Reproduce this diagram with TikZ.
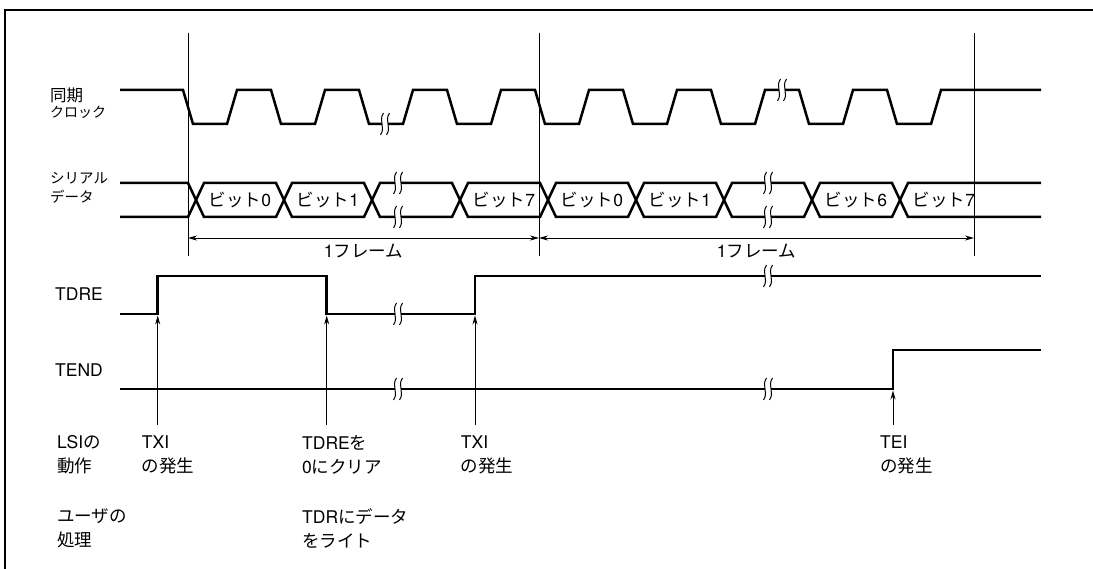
\documentclass[tikz,border=0pt]{standalone}
\usepackage{fontspec}
\setmainfont{TeX Gyre Heros}
\newfontfamily\jpfont{Noto Sans CJK JP}
\usetikzlibrary{arrows.meta, positioning}

% break mark on a signal line at (#1,#2)
\newcommand{\sigbreak}[2]{%
    \fill[white] (#1-3,#2-2.5) rectangle (#1+3,#2+2.5);
    \foreach \s in {-3,3}
        \draw[breakmark] ({#1+\s+1.5},#2-11) .. controls ({#1+\s-4},#2-3) and ({#1+\s+4},#2+3) .. ({#1+\s-1.5},#2+11);
}

\begin{document}
\begin{tikzpicture}[x=1pt, y=-1pt]
    \tikzstyle{signal}=[line width=2.5pt]
    \tikzstyle{guide}=[line width=0.8pt]
    \tikzstyle{breakmark}=[line width=1pt]
    \tikzstyle{event}=[line width=0.8pt, -{Stealth[length=9pt, width=5pt]}]
    \tikzstyle{span}=[line width=0.8pt, {Stealth[length=9pt, width=5pt]}-{Stealth[length=9pt, width=5pt]}]
    \tikzstyle{note}=[inner sep=0pt, anchor=west, align=left, font=\fontsize{17.5}{24}\selectfont]
    \tikzstyle{bittext}=[inner sep=0pt, font=\fontsize{17.5}{20}\selectfont]

    \useasboundingbox (0,0) rectangle (1093,569);
    \draw[line width=2.4pt] (5,580) -- (5,10) -- (1100,10);

    % frame boundaries
    \coordinate (fa) at (188,238);
    \coordinate (fb) at (539,238);
    \coordinate (fc) at (974,238);
    \foreach \f in {fa, fb, fc}
        \draw[guide] (\f) ++(0,-205) -- ++(0,223);
    \draw[span] (fa) -- (fb) node[midway, below=6pt, bittext] (frame1) {1{\jpfont フレーム}};
    \draw[span] (fb) -- (fc) node[midway, below=6pt, bittext] (frame2) {1{\jpfont フレーム}};

    % clock
    \draw[signal] (120,90) foreach \k in {0,...,8} { -- ({183+88*\k},90) -- ({193+88*\k},124) -- ({227+88*\k},124) -- ({237+88*\k},90) } -- (1041,90);

    % serial data
    \draw[signal] (120,183) -- (188,183) -- (196,200) -- (188,217) -- (120,217);
    \foreach \k in {0,...,7}
        \draw[signal] ({196+88*\k},200) -- ({204+88*\k},183) -- ({276+88*\k},183) -- ({284+88*\k},200) -- ({276+88*\k},217) -- ({204+88*\k},217) -- cycle;
    \draw[signal] (1041,183) -- (908,183) -- (900,200) -- (908,217) -- (1041,217);
    \foreach \k/\b in {0/0, 1/1, 3/7, 4/0, 5/1, 7/6, 8/7}
        \node[bittext] (bit\k) at ({240+88*\k},200) {{\jpfont ビット}\b};

    % TDRE and TEND
    \draw[signal] (120,314) -- (157.7,314) -- (157.7,276) -- (326.7,276) -- (326.7,314) -- (475,314) -- (475,276) -- (1041,276);
    \draw[signal] (120,389) -- (893,389) -- (893,350) -- (1041,350);

    \foreach \bx/\by in {385/124, 782/90, 398/183, 398/217, 768/183, 768/217, 398/314, 768/276, 398/389, 768/389}
        \sigbreak{\bx}{\by};

    % events
    \foreach \x/\n/\y in {157.7/txa/314, 326.7/clr/314, 475/txb/314, 893/tei/389} {
        \coordinate (\n tip) at (\x,\y+1.5);
        \coordinate (\n foot) at (\x,425);
        \draw[event] (\n foot) -- (\n tip);
    }

    % names
    \node[note, font=\jpfont\fontsize{16.5}{18}\selectfont] (clkname) at (50,95) {同期};
    \node[note, font=\jpfont\fontsize{14}{16}\selectfont, below=3pt of clkname.south west, anchor=north west] (clkname2) {クロック};
    \node[note, font=\jpfont\fontsize{14.5}{19}\selectfont] (dataname) at (50,187.5) {シリアル\\データ};
    \node[note] (tdrename) at (55,294) {TDRE};
    \node[note] (tendname) at (55,370) {TEND};

    \node[note] (lsi) at (57,455) {LSI{\jpfont の}\\{\jpfont 動作}};
    \node[note] (user) at (57,528.5) {{\jpfont ユーザの}\\{\jpfont 処理}};
    \node[note] (txaname) at (141.7,455) {TXI\\{\jpfont の発生}};
    \node[note] (clrname) at (302,455) {TDRE{\jpfont を}\\0{\jpfont にクリア}};
    \node[note] (txbname) at (460.7,455) {TXI\\{\jpfont の発生}};
    \node[note] (teiname) at (880,455) {TEI\\{\jpfont の発生}};
    \node[note] (writename) at (302,528.5) {TDR{\jpfont にデータ}\\{\jpfont をライト}};
\end{tikzpicture}
\end{document}
